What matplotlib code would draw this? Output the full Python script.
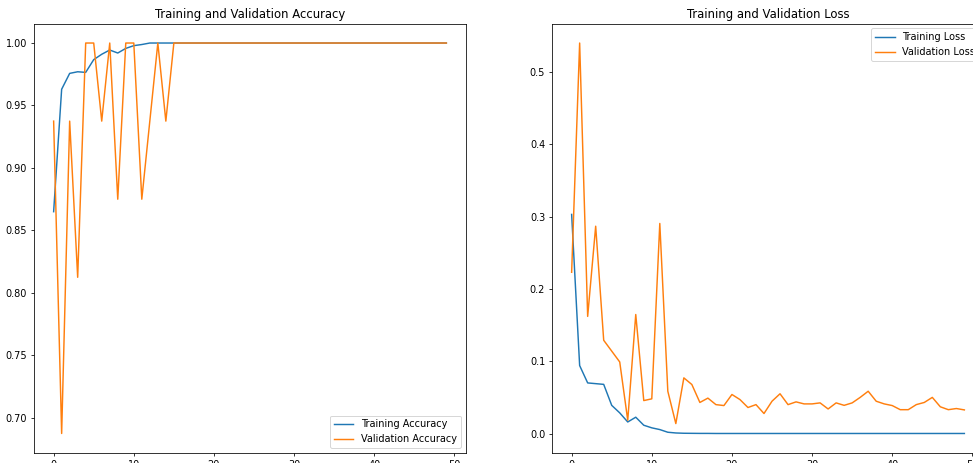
import numpy as np
import matplotlib
matplotlib.use('Agg')
import matplotlib.pyplot as plt

epochs_range = list(range(50))

acc = [0.865, 0.963, 0.9757, 0.977, 0.9765, 0.9867, 0.991, 0.9944, 0.992, 0.9957,
       0.9979, 0.9988, 1.0] + [1.0] * 37
val_acc = [0.9375, 0.6875, 0.9375, 0.8125, 1.0, 1.0, 0.9375, 1.0, 0.875, 1.0,
           1.0, 0.875, 0.9375, 1.0, 0.9375, 1.0] + [1.0] * 34

loss = [0.303, 0.094, 0.070, 0.069, 0.068, 0.039, 0.0286, 0.016, 0.0226, 0.0115,
        0.0079, 0.0055, 0.0018, 0.0008, 0.0004, 0.0003, 0.0002, 0.0002, 0.0001, 0.0001] + [0.0001] * 30
val_loss = [0.223, 0.540, 0.162, 0.2867, 0.129, 0.114, 0.099, 0.0184, 0.1646, 0.0456,
            0.048, 0.2905, 0.0585, 0.0138, 0.077, 0.0678, 0.043, 0.049, 0.040, 0.0387,
            0.054, 0.047, 0.036, 0.040, 0.0277, 0.0447, 0.055, 0.040, 0.0438, 0.041,
            0.041, 0.0424, 0.034, 0.0424, 0.039, 0.0424, 0.050, 0.0585, 0.0447, 0.041,
            0.0387, 0.033, 0.033, 0.040, 0.043, 0.050, 0.037, 0.033, 0.0346, 0.0327]

DPI = 70
fig = plt.figure(figsize=(973 / DPI, 463 / DPI), dpi=DPI)

ax1 = fig.add_axes([34 / 973, 10 / 463, 432 / 973, 429.5 / 463])
ax1.plot(epochs_range, acc, label='Training Accuracy')
ax1.plot(epochs_range, val_acc, label='Validation Accuracy')
ax1.legend(loc='lower right')
ax1.set_title('Training and Validation Accuracy')

ax2 = fig.add_axes([552 / 973, 10 / 463, 432 / 973, 429.5 / 463])
ax2.plot(epochs_range, loss, label='Training Loss')
ax2.plot(epochs_range, val_loss, label='Validation Loss')
ax2.legend(loc='upper right')
ax2.set_title('Training and Validation Loss')

fig.savefig('out.png', dpi=DPI)
